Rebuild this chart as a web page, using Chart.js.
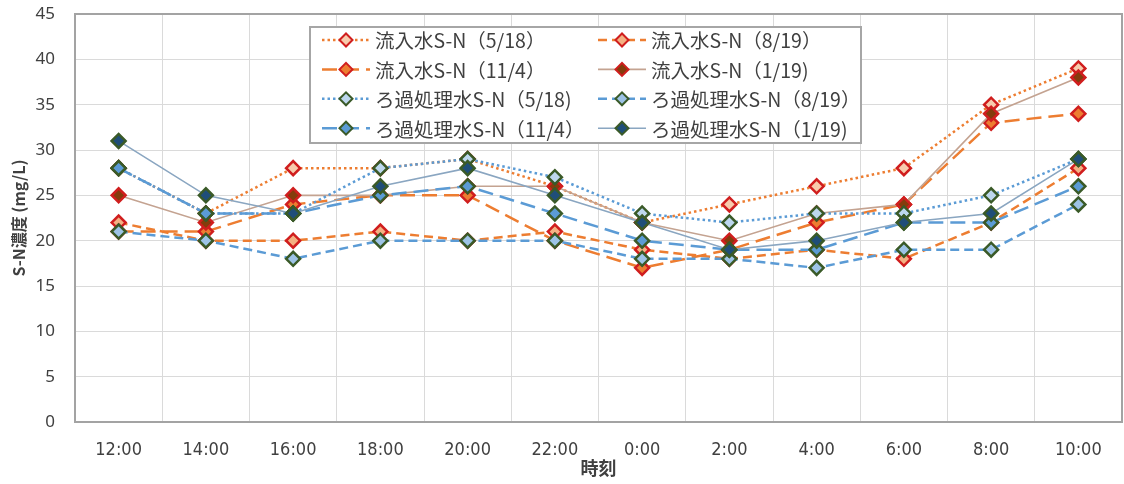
<!DOCTYPE html>
<html>
<head>
<meta charset="utf-8">
<script src="https://cdn.jsdelivr.net/npm/chart.js@4/dist/chart.umd.min.js"></script>
<style>
  html, body { margin: 0; padding: 0; background: #ffffff; }
  #wrap { width: 1124px; height: 484px; }
</style>
</head>
<body>
<div id="wrap"><canvas id="c" width="1124" height="484"></canvas></div>
<script>
// Sampling times (x categories)
const times = ['12:00', '14:00', '16:00', '18:00', '20:00', '22:00', '0:00', '2:00', '4:00', '6:00', '8:00', '10:00'];

// Influent S-N concentration (mg/L)
const inflow0518 = [28, 23, 28, 28, 29, 26, 22, 24, 26, 28, 35, 39];
const inflow0819 = [22, 20, 20, 21, 20, 21, 19, 18, 19, 18, 22, 28];
const inflow1104 = [21, 21, 24, 25, 25, 20, 17, 19, 22, 24, 33, 34];
const inflow0119 = [25, 22, 25, 25, 26, 26, 22, 20, 23, 24, 34, 38];

// Filtered water S-N concentration (mg/L)
const filtered0518 = [28, 23, 23, 28, 29, 27, 23, 22, 23, 23, 25, 29];
const filtered0819 = [21, 20, 18, 20, 20, 20, 18, 18, 17, 19, 19, 24];
const filtered1104 = [28, 23, 23, 25, 26, 23, 20, 19, 19, 22, 22, 26];
const filtered0119 = [31, 25, 23, 26, 28, 25, 22, 19, 20, 22, 23, 29];

// Y axis range
const yMin = 0, yMax = 45, yStep = 5;

const ORANGE = '#ED7D31';
const BLUE = '#5B9BD5';
const RED_EDGE = '#D01E1E';
const GREEN_EDGE = '#3A5A28';
const DOT = [2.5, 3];
const DASH = [9, 5];
const LONG_DASH = [15, 7];

function series(label, data, lineColor, dash, width, fill, edge, idx) {
  return {
    label, data,
    borderColor: lineColor,
    borderDash: dash,
    borderWidth: width,
    borderCapStyle: 'butt',
    pointStyle: 'rectRot',
    pointRadius: 7,
    pointHoverRadius: 7,
    pointBorderWidth: 2.5,
    pointBackgroundColor: fill,
    pointBorderColor: edge,
    fill: false,
    tension: 0,
    order: 7 - idx
  };
}

const datasets = [
  series('流入水S-N（5/18）', inflow0518, ORANGE, DOT, 2.5, '#F8CBAD', RED_EDGE, 0),
  series('流入水S-N（8/19）', inflow0819, ORANGE, DASH, 2.5, '#F4B183', RED_EDGE, 1),
  series('流入水S-N（11/4）', inflow1104, ORANGE, LONG_DASH, 2.5, '#ED7D31', RED_EDGE, 2),
  series('流入水S-N（1/19)', inflow0119, '#C4A391', [], 1.6, '#843C0C', RED_EDGE, 3),
  series('ろ過処理水S-N（5/18)', filtered0518, BLUE, DOT, 2.5, '#BDD7EE', GREEN_EDGE, 4),
  series('ろ過処理水S-N（8/19）', filtered0819, BLUE, DASH, 2.5, '#9DC3E6', GREEN_EDGE, 5),
  series('ろ過処理水S-N（11/4）', filtered1104, BLUE, LONG_DASH, 2.5, '#5B9BD5', GREEN_EDGE, 6),
  series('ろ過処理水S-N（1/19)', filtered0119, '#8AA6C1', [], 1.6, '#1F4E79', GREEN_EDGE, 7)
];

// Gray frame around the plotting area
const plotFrame = {
  id: 'plotFrame',
  beforeDatasetsDraw(chart) {
    const { ctx, chartArea: a } = chart;
    ctx.save();
    ctx.strokeStyle = '#a3a3a3';
    ctx.lineWidth = 2;
    ctx.strokeRect(a.left, a.top, a.right - a.left, a.bottom - a.top);
    ctx.restore();
  }
};

// Two-column boxed legend drawn inside the plotting area
const boxedLegend = {
  id: 'boxedLegend',
  afterDatasetsDraw(chart) {
    const ctx = chart.ctx;
    const box = { x: 310, y: 27, w: 551, h: 116 };
    ctx.save();
    ctx.fillStyle = '#ffffff';
    ctx.fillRect(box.x, box.y, box.w, box.h);
    ctx.strokeStyle = '#a6a6a6';
    ctx.lineWidth = 2;
    ctx.strokeRect(box.x, box.y, box.w, box.h);

    const colX = [322, 598];
    const rowY0 = 40, rowGap = 29.4;
    chart.data.datasets.forEach((ds, i) => {
      const col = i % 2, row = Math.floor(i / 2);
      const x0 = colX[col], x1 = x0 + 48, y = rowY0 + row * rowGap;
      ctx.beginPath();
      ctx.setLineDash(ds.borderDash || []);
      ctx.lineWidth = ds.borderWidth;
      ctx.strokeStyle = ds.borderColor;
      ctx.lineCap = 'butt';
      ctx.moveTo(x0, y);
      ctx.lineTo(x1, y);
      ctx.stroke();
      ctx.setLineDash([]);
      ctx.fillStyle = ds.pointBackgroundColor;
      ctx.strokeStyle = ds.pointBorderColor;
      ctx.lineWidth = 2;
      Chart.helpers.drawPoint(ctx, { pointStyle: 'rectRot', radius: 6.5, borderWidth: 2, rotation: 0 }, (x0 + x1) / 2, y);
      ctx.fillStyle = '#404040';
      ctx.font = '19.5px "Noto Sans CJK JP", sans-serif';
      ctx.textBaseline = 'middle';
      ctx.textAlign = 'left';
      ctx.fillText(ds.label, x1 + 5, y + 1);
    });
    ctx.restore();
  }
};

new Chart(document.getElementById('c'), {
  type: 'line',
  data: { labels: times, datasets },
  options: {
    responsive: false,
    animation: false,
    events: [],
    layout: { autoPadding: false, padding: { left: 0, right: 2, top: 14, bottom: 0 } },
    plugins: { legend: { display: false }, tooltip: { enabled: false } },
    scales: {
      x: {
        type: 'category',
        offset: true,
        grid: { offset: true, color: '#dadada', lineWidth: 1, drawTicks: false },
        border: { display: false },
        ticks: {
          color: '#404040',
          padding: 18,
          maxRotation: 0,
          autoSkip: false,
          font: { family: '"Liberation Sans Narrow", "DejaVu Sans Condensed", "Liberation Sans", sans-serif', size: 18 }
        },
        title: {
          display: true,
          text: '時刻',
          color: '#404040',
          padding: { top: 0, bottom: 5 },
          font: { family: '"Noto Sans CJK JP", sans-serif', size: 18, weight: 'bold' }
        },
        afterFit(scale) {
          scale.height = 62;
          scale.paddingLeft = 0;
          scale.paddingRight = 0;
        }
      },
      y: {
        min: yMin, max: yMax,
        grid: { color: '#dadada', lineWidth: 1, drawTicks: false },
        border: { display: false },
        ticks: {
          stepSize: yStep,
          color: '#404040',
          padding: 20,
          font: { family: '"Noto Sans", "Open Sans", sans-serif', size: 17 }
        },
        title: {
          display: true,
          text: 'S-N濃度 (mg/L)',
          color: '#404040',
          padding: { top: 9, bottom: 0 },
          font: { family: '"Noto Sans CJK JP", sans-serif', size: 16, weight: 'bold' }
        },
        afterFit(scale) {
          scale.width = 75;
          scale.paddingTop = 0;
          scale.paddingBottom = 0;
        }
      }
    }
  },
  plugins: [plotFrame, boxedLegend]
});
</script>
</body>
</html>
